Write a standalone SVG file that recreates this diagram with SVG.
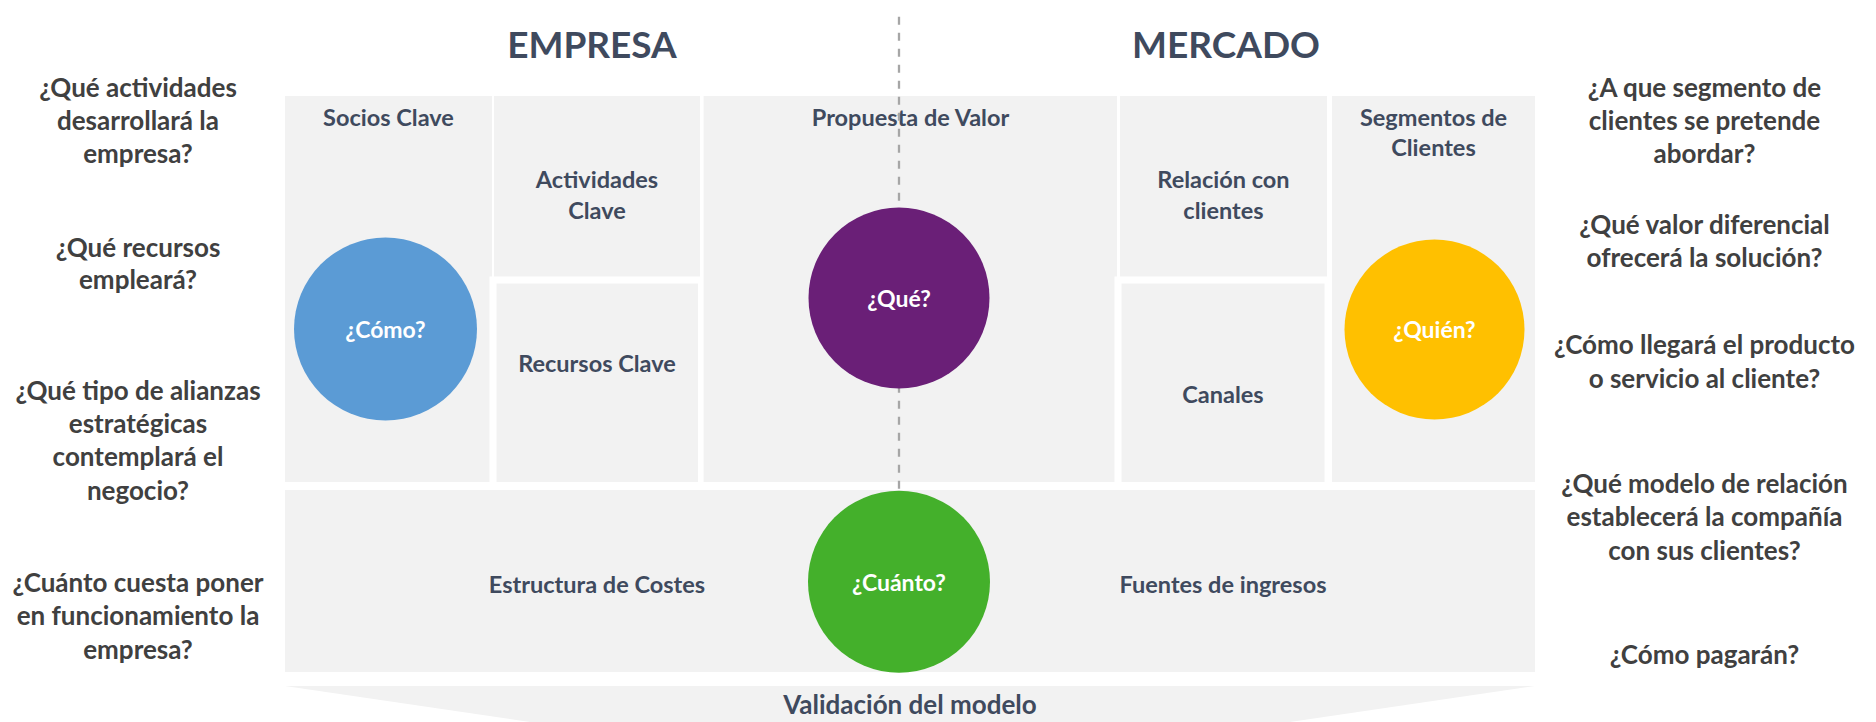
<svg xmlns="http://www.w3.org/2000/svg" width="1876" height="722" viewBox="0 0 1876 722">
<style>
  .cell { fill: #f2f2f2; }
  .boxed { fill: #f2f2f2; stroke: #ffffff; stroke-width: 7; }
  .lbl { font-family: Lato, "Open Sans", "Liberation Sans", sans-serif; font-weight: 700; font-size: 23.5px; fill: #3f4a5e; text-anchor: middle; }
  .hdr { font-family: Lato, "Open Sans", "Liberation Sans", sans-serif; font-weight: 700; font-size: 37px; fill: #3f4a5e; text-anchor: middle; }
  .q { font-family: Lato, "Open Sans", "Liberation Sans", sans-serif; font-weight: 700; font-size: 26px; fill: #404040; text-anchor: middle; }
  .ctext { font-family: Lato, "Open Sans", "Liberation Sans", sans-serif; font-weight: 700; font-size: 23px; fill: #ffffff; text-anchor: middle; }
  .val { font-family: Lato, "Open Sans", "Liberation Sans", sans-serif; font-weight: 700; font-size: 26px; fill: #3f4a5e; text-anchor: middle; }
  .dash { stroke: #a6a6a6; stroke-width: 2.3; stroke-dasharray: 8 8; fill: none; }
</style>
<rect width="1876" height="722" fill="#ffffff"/>

<g id="headers">
  <text class="hdr" x="592" y="58">EMPRESA</text>
  <text class="hdr" x="1226" y="58">MERCADO</text>
</g>

<g id="socios-clave">
  <rect class="cell" x="285" y="96" width="207" height="386"/>
  <text class="lbl" x="388.5" y="126">Socios Clave</text>
</g>
<g id="actividades-clave">
  <rect class="cell" x="494" y="96" width="206" height="181"/>
  <text class="lbl" x="597" y="188">Actividades</text>
  <text class="lbl" x="597" y="219">Clave</text>
</g>
<g id="recursos-clave">
  <rect class="boxed" x="493" y="280" width="208.5" height="205.5"/>
  <text class="lbl" x="597" y="372">Recursos Clave</text>
</g>
<g id="propuesta-valor">
  <rect class="cell" x="703.6" y="96" width="413.4" height="386"/>
  <text class="lbl" x="910.5" y="126">Propuesta de Valor</text>
</g>
<g id="relacion-clientes">
  <rect class="cell" x="1120" y="96" width="207" height="181"/>
  <text class="lbl" x="1223.5" y="188">Relación con</text>
  <text class="lbl" x="1223.5" y="219">clientes</text>
</g>
<g id="canales">
  <rect class="boxed" x="1118" y="280" width="210" height="205.5"/>
  <text class="lbl" x="1223" y="403">Canales</text>
</g>
<g id="segmentos-clientes">
  <rect class="cell" x="1332" y="96" width="203" height="386"/>
  <text class="lbl" x="1433.5" y="126">Segmentos de</text>
  <text class="lbl" x="1433.5" y="156">Clientes</text>
</g>
<g id="costes-ingresos">
  <rect class="cell" x="285" y="490" width="1250" height="182"/>
  <text class="lbl" x="597" y="593">Estructura de Costes</text>
  <text class="lbl" x="1223" y="593">Fuentes de ingresos</text>
</g>
<g id="validacion">
  <polygon class="cell" points="285,686 1535,686 1290,722 530,722"/>
  <text class="val" x="910" y="714">Validación del modelo</text>
</g>

<g id="connectors">
  <line class="dash" x1="899" y1="16.7" x2="899" y2="492"/>
</g>

<g id="como">
  <circle cx="385.5" cy="329" r="91.5" fill="#5b9bd5"/>
  <text class="ctext" x="385.5" y="338">¿Cómo?</text>
</g>
<g id="que">
  <circle cx="899" cy="298" r="90.5" fill="#6a1f77"/>
  <text class="ctext" x="899" y="307">¿Qué?</text>
</g>
<g id="cuanto">
  <circle cx="899" cy="581.7" r="91" fill="#44b02b"/>
  <text class="ctext" x="899" y="591">¿Cuánto?</text>
</g>
<g id="quien">
  <circle cx="1434.5" cy="329.5" r="90" fill="#ffc000"/>
  <text class="ctext" x="1434.5" y="338">¿Quién?</text>
</g>

<g id="questions-left">
  <text class="q" x="138" y="97">¿Qué actividades</text>
  <text class="q" x="138" y="130">desarrollará la</text>
  <text class="q" x="138" y="163">empresa?</text>
  <text class="q" x="138" y="256.5">¿Qué recursos</text>
  <text class="q" x="138" y="289">empleará?</text>
  <text class="q" x="138" y="400">¿Qué tipo de alianzas</text>
  <text class="q" x="138" y="433">estratégicas</text>
  <text class="q" x="138" y="466">contemplará el</text>
  <text class="q" x="138" y="499.5">negocio?</text>
  <text class="q" x="138" y="592">¿Cuánto cuesta poner</text>
  <text class="q" x="138" y="625">en funcionamiento la</text>
  <text class="q" x="138" y="658.5">empresa?</text>
</g>
<g id="questions-right">
  <text class="q" x="1704.5" y="97">¿A que segmento de</text>
  <text class="q" x="1704.5" y="130">clientes se pretende</text>
  <text class="q" x="1704.5" y="163">abordar?</text>
  <text class="q" x="1704.5" y="233.5">¿Qué valor diferencial</text>
  <text class="q" x="1704.5" y="267">ofrecerá la solución?</text>
  <text class="q" x="1704.5" y="354">¿Cómo llegará el producto</text>
  <text class="q" x="1704.5" y="387.5">o servicio al cliente?</text>
  <text class="q" x="1704.5" y="493">¿Qué modelo de relación</text>
  <text class="q" x="1704.5" y="526">establecerá la compañía</text>
  <text class="q" x="1704.5" y="559.5">con sus clientes?</text>
  <text class="q" x="1704.5" y="664">¿Cómo pagarán?</text>
</g>
</svg>
